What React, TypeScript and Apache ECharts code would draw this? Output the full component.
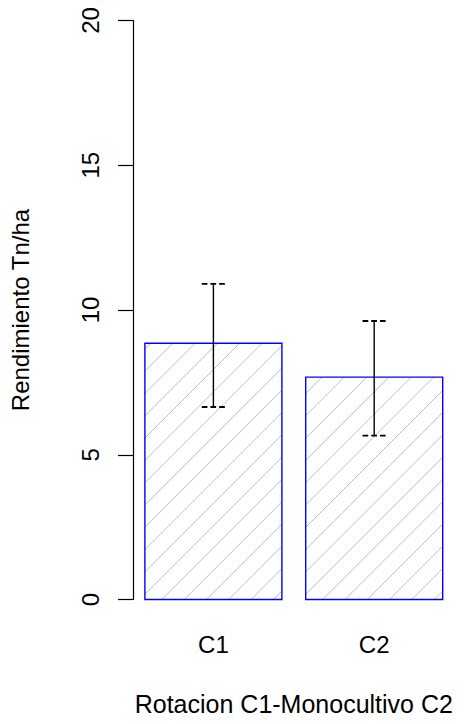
import React, { useEffect, useRef } from "react";
import * as echarts from "echarts";

const categories = ["C1", "C2"];
const means = [8.85, 7.68];
const lowerErr = [6.65, 5.66];
const upperErr = [10.9, 9.62];
const yMin = 0;
const yMax = 20;
const yInterval = 5;

const FONT = "'Liberation Sans', Arial, Helvetica, sans-serif";

export default function App() {
  const ref = useRef<HTMLDivElement>(null);
  useEffect(() => {
    if (!ref.current) return;
    const chart = echarts.init(ref.current, null, { renderer: "svg" });

    const barData = categories.map((c, i) => [i, means[i]]);
    const errData = categories.map((c, i) => [i, lowerErr[i], upperErr[i]]);

    const renderBar = (params: any, api: any) => {
      const idx = api.value(0);
      const v = api.value(1);
      const top = api.coord([idx, v]);
      const base = api.coord([idx, 0]);
      const band = api.size([1, 0])[0];
      const w = band * 0.852;
      const x0 = top[0] - w / 2;
      const x1 = top[0] + w / 2;
      const yT = top[1];
      const yB = base[1];
      const sp = 22.3;
      const offset = 17;
      const children: any[] = [
        {
          type: "rect",
          shape: { x: x0, y: yT, width: w, height: yB - yT },
          style: { fill: "#ffffff", stroke: "none" },
        },
      ];
      const cStartBase = x0 + yB + offset;
      const cMin = x0 + yT;
      const cMax = x1 + yB;
      let k = Math.floor((cMin - cStartBase) / sp) - 1;
      for (; ; k++) {
        const c = cStartBase + k * sp;
        if (c > cMax) break;
        if (c <= cMin) continue;
        const ymin = Math.max(yT, c - x1);
        const ymax = Math.min(yB, c - x0);
        if (ymax - ymin < 0.5) continue;
        children.push({
          type: "line",
          shape: { x1: c - ymax, y1: ymax, x2: c - ymin, y2: ymin },
          style: { stroke: "#bebebe", lineWidth: 1 },
        });
      }
      children.push({
        type: "rect",
        shape: { x: x0, y: yT, width: w, height: yB - yT },
        style: { fill: "none", stroke: "#0000ff", lineWidth: 1.4 },
      });
      return { type: "group", children };
    };

    const renderErr = (params: any, api: any) => {
      const idx = api.value(0);
      const lo = api.coord([idx, api.value(1)]);
      const hi = api.coord([idx, api.value(2)]);
      const band = api.size([1, 0])[0];
      const cw = band * 0.145;
      const capStyle = {
        stroke: "#000000",
        lineWidth: 1.8,
        lineDash: [5.7, 3],
      };
      return {
        type: "group",
        children: [
          {
            type: "line",
            shape: { x1: lo[0], y1: lo[1], x2: hi[0], y2: hi[1] },
            style: { stroke: "#000000", lineWidth: 1.4 },
          },
          {
            type: "line",
            shape: { x1: hi[0] - cw / 2, y1: hi[1], x2: hi[0] + cw / 2, y2: hi[1] },
            style: capStyle,
          },
          {
            type: "line",
            shape: { x1: lo[0] - cw / 2, y1: lo[1], x2: lo[0] + cw / 2, y2: lo[1] },
            style: capStyle,
          },
        ],
      };
    };

    chart.setOption({
      animation: false,
      backgroundColor: "#ffffff",
      grid: { left: 133, right: 10.4, top: 20.5, bottom: 124.5 },
      xAxis: {
        type: "category",
        data: categories,
        axisLine: { show: false },
        axisTick: { show: false },
        axisLabel: {
          color: "#000",
          fontSize: 24,
          fontFamily: FONT,
          margin: 33,
        },
        name: "Rotacion C1-Monocultivo C2",
        nameLocation: "middle",
        nameGap: 92,
        nameTextStyle: { color: "#000", fontSize: 25, fontFamily: FONT },
      },
      yAxis: {
        type: "value",
        min: yMin,
        max: yMax,
        interval: yInterval,
        splitLine: { show: false },
        axisLine: { show: true, lineStyle: { color: "#000", width: 1.2 } },
        axisTick: { show: true, length: 15, lineStyle: { color: "#000", width: 1.2 } },
        axisLabel: {
          color: "#000",
          fontSize: 24,
          fontFamily: FONT,
          rotate: 90,
          margin: 31,
        },
        name: "Rendimiento Tn/ha",
        nameLocation: "middle",
        nameRotate: 90,
        nameGap: 101,
        nameTextStyle: { color: "#000", fontSize: 24, fontFamily: FONT },
      },
      series: [
        {
          type: "custom",
          data: barData,
          renderItem: renderBar,
          clip: false,
          z: 2,
        },
        {
          type: "custom",
          data: errData,
          renderItem: renderErr,
          clip: false,
          z: 3,
        },
      ],
    });
    return () => chart.dispose();
  }, []);
  return (
    <div
      ref={ref}
      style={{ position: "fixed", left: 0, top: 0, width: 465, height: 724, background: "#fff" }}
    />
  );
}
